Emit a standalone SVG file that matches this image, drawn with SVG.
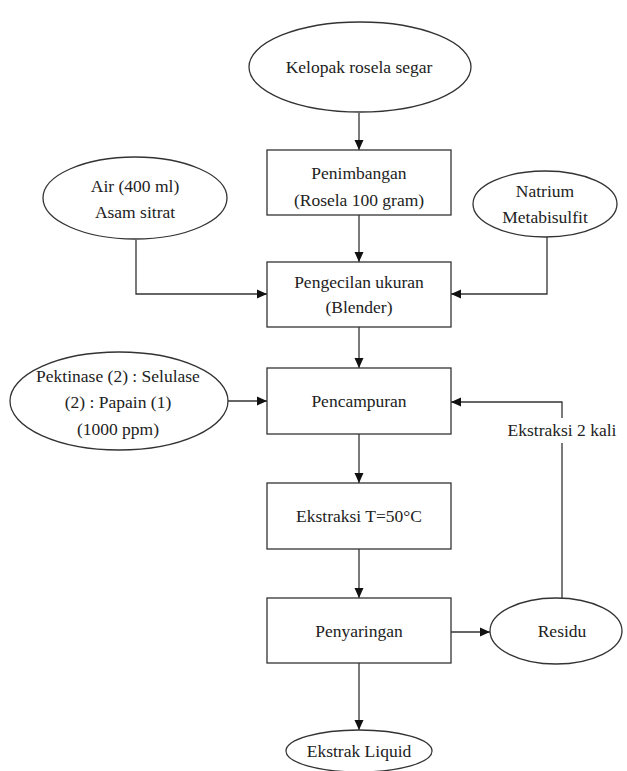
<svg xmlns="http://www.w3.org/2000/svg" width="627" height="771" viewBox="0 0 627 771">
<style>
.shape{fill:#fff;stroke:#333;stroke-width:1.3}
.t{font-family:'Liberation Serif','DejaVu Serif',serif;font-size:17.5px;fill:#222;text-anchor:middle}
.c{fill:none;stroke:#333;stroke-width:1.3}
</style>
<defs>
<marker id="ah" viewBox="0 0 10 10" refX="10" refY="5" markerWidth="10" markerHeight="10" markerUnits="userSpaceOnUse" orient="auto">
<path d="M0,0.5 L10,5 L0,9.5 Z" fill="#111"/>
</marker>
</defs>
<rect width="627" height="771" fill="#fff"/>
<g id="connectors">
<path class="c" d="M359,113 V150" marker-end="url(#ah)"/>
<path class="c" d="M359,215 V262" marker-end="url(#ah)"/>
<path class="c" d="M136,240 V294 H267" marker-end="url(#ah)"/>
<path class="c" d="M547,237 V294 H451" marker-end="url(#ah)"/>
<path class="c" d="M359,327 V368" marker-end="url(#ah)"/>
<path class="c" d="M228,401 H267" marker-end="url(#ah)"/>
<path class="c" d="M359,434 V483" marker-end="url(#ah)"/>
<path class="c" d="M359,549 V598" marker-end="url(#ah)"/>
<path class="c" d="M451,632 H490" marker-end="url(#ah)"/>
<path class="c" d="M359,663 V730" marker-end="url(#ah)"/>
<path class="c" d="M562,598 V443"/>
<path class="c" d="M562,418 V402 H451" marker-end="url(#ah)"/>
<text class="t" x="562" y="436">Ekstraksi 2 kali</text>
</g>
<g id="kelopak">
<ellipse class="shape" cx="360" cy="67" rx="111" ry="45"/>
<text class="t" x="359" y="73">Kelopak rosela segar</text>
</g>
<g id="penimbangan">
<rect class="shape" x="267" y="150" width="184" height="65"/>
<text class="t" x="359" y="179">Penimbangan</text>
<text class="t" x="359" y="206">(Rosela 100 gram)</text>
</g>
<g id="air">
<ellipse class="shape" cx="135" cy="198" rx="92" ry="41"/>
<text class="t" x="135" y="192">Air (400 ml)</text>
<text class="t" x="135" y="218">Asam sitrat</text>
</g>
<g id="natrium">
<ellipse class="shape" cx="545" cy="204" rx="72" ry="33"/>
<text class="t" x="545" y="197">Natrium</text>
<text class="t" x="545" y="223">Metabisulfit</text>
</g>
<g id="pengecilan">
<rect class="shape" x="267" y="262" width="184" height="65"/>
<text class="t" x="359" y="288">Pengecilan ukuran</text>
<text class="t" x="359" y="313">(Blender)</text>
</g>
<g id="pektinase">
<ellipse class="shape" cx="119" cy="401" rx="109" ry="49"/>
<text class="t" x="118" y="382">Pektinase (2) : Selulase</text>
<text class="t" x="118" y="408">(2) : Papain (1)</text>
<text class="t" x="118" y="435">(1000 ppm)</text>
</g>
<g id="pencampuran">
<rect class="shape" x="267" y="368" width="184" height="66"/>
<text class="t" x="359" y="407">Pencampuran</text>
</g>
<g id="ekstraksi">
<rect class="shape" x="267" y="483" width="184" height="66"/>
<text class="t" x="359" y="522">Ekstraksi T=50°C</text>
</g>
<g id="penyaringan">
<rect class="shape" x="267" y="598" width="184" height="65"/>
<text class="t" x="359" y="637">Penyaringan</text>
</g>
<g id="residu">
<ellipse class="shape" cx="556" cy="631" rx="66" ry="33"/>
<text class="t" x="562" y="637">Residu</text>
</g>
<g id="ekstrak-liquid">
<ellipse class="shape" cx="359" cy="751" rx="73" ry="21"/>
<text class="t" x="359" y="757">Ekstrak Liquid</text>
</g>
</svg>
